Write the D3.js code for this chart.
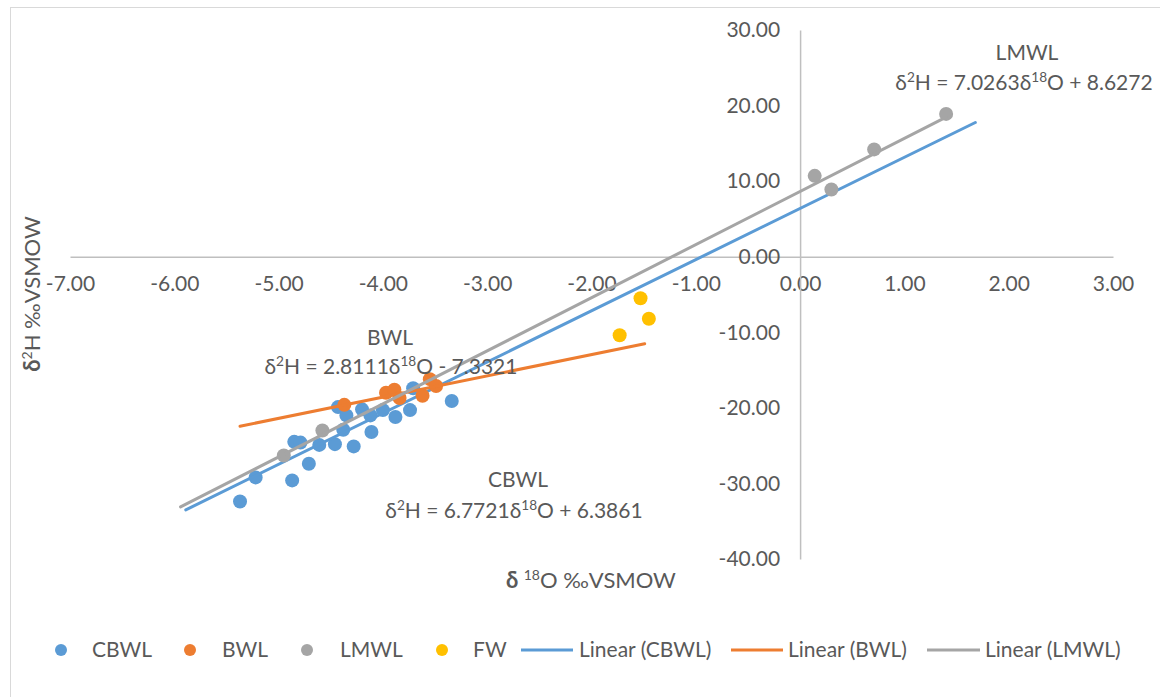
<!DOCTYPE html>
<html>
<head>
<meta charset="utf-8">
<script src="https://cdn.jsdelivr.net/npm/d3@7"></script>
<style>
  html, body { margin: 0; padding: 0; background: #fff; }
  svg { display: block; font-family: Lato, "Liberation Sans", sans-serif; }
</style>
</head>
<body>
<svg id="chart" width="1160" height="697"></svg>
<script>
// δ18O / δ2H sample values (‰ VSMOW)
const cbwlO = [-5.37, -5.22, -4.87, -4.71, -4.85, -4.79, -4.61, -4.46, -4.28, -4.11,
               -4.38, -4.43, -4.35, -4.20, -4.12, -4.00, -3.88, -3.74, -3.71, -3.34];
const cbwlH = [-32.4, -29.2, -29.6, -27.4, -24.5, -24.6, -24.9, -24.8, -25.1, -23.2,
               -22.9, -19.9, -21.0, -20.2, -21.0, -20.3, -21.2, -20.3, -17.4, -19.1];
const bwlO = [-4.37, -3.97, -3.89, -3.84, -3.62, -3.55, -3.49];
const bwlH = [-19.6, -18.0, -17.6, -18.7, -18.4, -16.2, -17.1];
const lmwlO = [-4.95, -4.58, 0.14, 0.30, 0.71, 1.40];
const lmwlH = [-26.3, -23.0, 10.7, 8.9, 14.2, 18.9];
const fwO = [-1.53, -1.45, -1.73];
const fwH = [-5.5, -8.2, -10.4];

// Linear trend lines: slope, intercept and x-extent
const trendNames = ["CBWL", "BWL", "LMWL"];
const trendSlope = [6.7721, 2.8111, 7.0263];
const trendIntercept = [6.3861, -7.3321, 8.6272];
const trendFrom = [-5.89, -5.37, -5.94];
const trendTo = [1.68, -1.49, 1.40];
const trendLabels = [
  ["δ", "2", "H = 6.7721δ", "18", "O + 6.3861"],
  ["δ", "2", "H = 2.8111δ", "18", "O - 7.3321"],
  ["δ", "2", "H = 7.0263δ", "18", "O + 8.6272"]
];

// Axis ticks
const xTicks = [-7, -6, -5, -4, -3, -2, -1, 0, 1, 2, 3];
const yTicks = [-40, -30, -20, -10, 0, 10, 20, 30];

const colors = { CBWL: "#5B9BD5", BWL: "#ED7D31", LMWL: "#A5A5A5", FW: "#FFC000" };
const textColor = "#595959";

const svg = d3.select("#chart");

// chart frame
svg.append("rect")
  .attr("x", 10.5).attr("y", 7.5)
  .attr("width", 1160).attr("height", 700)
  .attr("fill", "none").attr("stroke", "#D9D9D9").attr("stroke-width", 1);

const x = d3.scaleLinear().domain([-7, 3]).range([70, 1113]);
const y = d3.scaleLinear().domain([-40, 30]).range([559, 30]);

const fmt = d => d.toFixed(2);

// X axis along y = 0
const gx = svg.append("g")
  .attr("transform", `translate(0,${y(0)})`)
  .call(d3.axisBottom(x).tickValues(xTicks).tickFormat(fmt).tickSize(0).tickPadding(22));
// Y axis along x = 0
const gy = svg.append("g")
  .attr("transform", `translate(${x(0)},0)`)
  .call(d3.axisLeft(y).tickValues(yTicks).tickFormat(fmt).tickSize(0).tickPadding(20));

[gx, gy].forEach(g => {
  g.select(".domain").attr("stroke", "#BFBFBF").attr("stroke-width", 1.5);
  g.selectAll("text")
    .attr("fill", textColor)
    .style("font-size", "21px")
    .style("font-family", "Lato, 'Liberation Sans', sans-serif");
});
gx.selectAll("text").attr("dy", "0.6em");

function drawPoints(xs, ys, color) {
  svg.append("g").selectAll("circle")
    .data(xs.map((v, i) => [v, ys[i]]))
    .join("circle")
    .attr("cx", d => x(d[0]))
    .attr("cy", d => y(d[1]))
    .attr("r", 7)
    .attr("fill", color);
}

function drawTrend(i, color) {
  const f = v => trendSlope[i] * v + trendIntercept[i];
  svg.append("line")
    .attr("x1", x(trendFrom[i])).attr("y1", y(f(trendFrom[i])))
    .attr("x2", x(trendTo[i])).attr("y2", y(f(trendTo[i])))
    .attr("stroke", color).attr("stroke-width", 3)
    .attr("stroke-linecap", "round");
}

drawPoints(cbwlO, cbwlH, colors.CBWL);
drawTrend(0, colors.CBWL);
drawPoints(bwlO, bwlH, colors.BWL);
drawTrend(1, colors.BWL);
drawPoints(lmwlO, lmwlH, colors.LMWL);
drawTrend(2, colors.LMWL);
drawPoints(fwO, fwH, colors.FW);

// Trend line labels
function equation(parent, parts, cx, cy, size) {
  const t = parent.append("text")
    .attr("x", cx).attr("y", cy)
    .attr("text-anchor", "middle")
    .attr("fill", textColor)
    .style("font-size", size + "px");
  parts.forEach((p, k) => {
    const sup = k === 1 || k === 3;
    t.append("tspan")
      .attr("dy", sup ? -size * 0.38 : (k === 0 ? 0 : size * 0.38))
      .style("font-size", sup ? (size * 0.65) + "px" : size + "px")
      .text(p);
  });
  return t;
}

const labelPos = [[518, 487, 514, 518], [390, 345, 391, 374], [1027, 60, 1024, 90]];
const labels = svg.append("g");
trendNames.forEach((name, i) => {
  const [nx, ny, ex, ey] = labelPos[i];
  labels.append("text")
    .attr("x", nx).attr("y", ny)
    .attr("text-anchor", "middle")
    .attr("fill", textColor)
    .style("font-size", "21px")
    .text(name);
  equation(labels, trendLabels[i], ex, ey, 21);
});

// Axis titles
const xt = svg.append("text")
  .attr("x", 591).attr("y", 588)
  .attr("text-anchor", "middle")
  .attr("fill", textColor)
  .style("font-size", "22px");
xt.append("tspan").style("font-weight", "bold").text("δ ");
xt.append("tspan").attr("dy", -8).style("font-size", "14px").text("18");
xt.append("tspan").attr("dy", 8).text("O ‰VSMOW");

const yt = svg.append("text")
  .attr("transform", "translate(40,294) rotate(-90)")
  .attr("text-anchor", "middle")
  .attr("fill", textColor)
  .style("font-size", "22px");
yt.append("tspan").style("font-weight", "bold").text("δ");
yt.append("tspan").attr("dy", -8).style("font-size", "14px").text("2");
yt.append("tspan").attr("dy", 8).text("H ‰VSMOW");

// Legend
const legendY = 650;
const legend = svg.append("g").style("font-size", "21px");
const pointItems = [["CBWL", 61, 92], ["BWL", 190, 222], ["LMWL", 307, 340], ["FW", 442, 473]];
pointItems.forEach(([name, cx, tx]) => {
  legend.append("circle").attr("cx", cx).attr("cy", legendY).attr("r", 6).attr("fill", colors[name]);
  legend.append("text").attr("x", tx).attr("y", legendY).attr("dy", "0.35em")
    .attr("fill", textColor).text(name);
});
const lineItems = [["CBWL", 521, 573, 579], ["BWL", 731, 783, 788], ["LMWL", 927, 980, 985]];
lineItems.forEach(([name, x1, x2, tx]) => {
  legend.append("line").attr("x1", x1).attr("x2", x2).attr("y1", legendY).attr("y2", legendY)
    .attr("stroke", colors[name]).attr("stroke-width", 3);
  legend.append("text").attr("x", tx).attr("y", legendY).attr("dy", "0.35em")
    .attr("fill", textColor).text(`Linear (${name})`);
});
</script>
</body>
</html>
